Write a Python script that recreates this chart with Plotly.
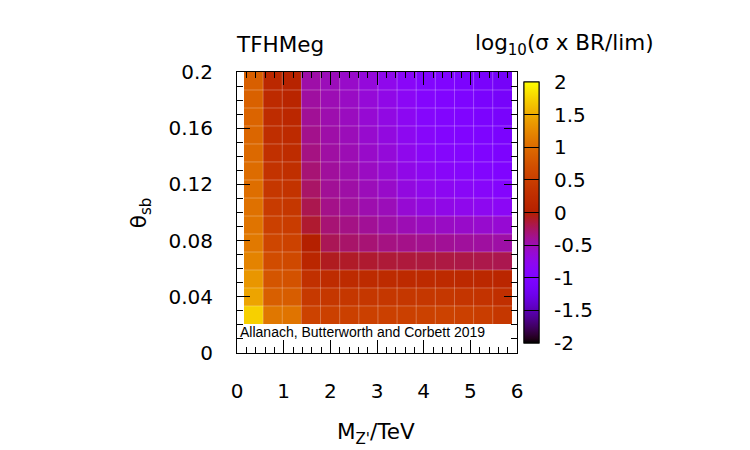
import math
import plotly.graph_objects as go

# ---- data ----
mass_tev = [0.355, 0.765, 1.175, 1.585, 1.995, 2.405, 2.815, 3.225, 3.635, 4.045, 4.455, 4.865, 5.275, 5.685]
theta_sb = [0.1936, 0.1808, 0.1680, 0.1552, 0.1424, 0.1296, 0.1167, 0.1039, 0.0911, 0.0783, 0.0655, 0.0527, 0.0399, 0.0271]
log_ratio = [
    [0.88, 0.15, 0.06, -0.46, -0.52, -0.58, -0.66, -0.75, -0.85, -0.95, -1.00, -1.05, -1.10, -1.15],
    [0.90, 0.18, 0.10, -0.43, -0.50, -0.56, -0.64, -0.72, -0.82, -0.92, -0.98, -1.03, -1.08, -1.12],
    [0.93, 0.22, 0.14, -0.40, -0.48, -0.54, -0.62, -0.70, -0.80, -0.90, -0.96, -1.00, -1.05, -1.10],
    [0.95, 0.26, 0.18, -0.37, -0.46, -0.52, -0.60, -0.68, -0.78, -0.88, -0.93, -0.97, -1.02, -1.07],
    [0.97, 0.30, 0.23, -0.34, -0.44, -0.50, -0.58, -0.65, -0.75, -0.85, -0.90, -0.94, -0.99, -1.04],
    [1.00, 0.35, 0.28, -0.30, -0.42, -0.48, -0.55, -0.62, -0.72, -0.80, -0.86, -0.90, -0.95, -1.00],
    [1.02, 0.40, 0.34, -0.26, -0.40, -0.45, -0.52, -0.58, -0.68, -0.75, -0.80, -0.84, -0.88, -0.92],
    [1.05, 0.45, 0.40, -0.20, -0.36, -0.42, -0.48, -0.52, -0.62, -0.68, -0.72, -0.75, -0.78, -0.82],
    [1.08, 0.52, 0.47, -0.12, -0.30, -0.35, -0.40, -0.45, -0.50, -0.54, -0.56, -0.58, -0.60, -0.62],
    [1.12, 0.60, 0.55, 0.00, -0.22, -0.27, -0.30, -0.34, -0.36, -0.38, -0.40, -0.42, -0.43, -0.45],
    [1.20, 0.68, 0.64, 0.12, -0.08, -0.10, -0.12, -0.14, -0.15, -0.16, -0.17, -0.18, -0.19, -0.20],
    [1.35, 0.77, 0.74, 0.30, 0.22, 0.20, 0.20, 0.20, 0.19, 0.18, 0.18, 0.17, 0.15, 0.12],
    [1.45, 0.88, 0.85, 0.42, 0.40, 0.40, 0.40, 0.40, 0.40, 0.40, 0.40, 0.38, 0.35, 0.28],
    [1.74, 1.10, 1.08, 0.55, 0.52, 0.52, 0.52, 0.52, 0.52, 0.54, 0.55, 0.52, 0.48, 0.40],
]
x_tickvals = [0, 1, 2, 3, 4, 5, 6]
y_tickvals = [0, 0.04, 0.08, 0.12, 0.16, 0.2]
y_ticktext = ["0", "0.04", "0.08", "0.12", "0.16", "0.2"]
cb_tickvals = [2, 1.5, 1, 0.5, 0, -0.5, -1, -1.5, -2]
cb_ticktext = ["2", "1.5", "1", "0.5", "0", "-0.5", "-1", "-1.5", "-2"]

# gnuplot default palette (rgbformulae 7,5,15)
def clip(v):
    return max(0.0, min(1.0, v))

colorscale = []
N = 64
for i in range(N + 1):
    t = i / N
    r = clip(math.sqrt(t))
    g = clip(t ** 3)
    b = clip(math.sin(2 * math.pi * t))
    colorscale.append([t, f"rgb({round(r*255)},{round(g*255)},{round(b*255)})"])

FONT = "DejaVu Sans"
cb_geom = dict(x=1.025, xanchor="left", xpad=0, y=0.5, yanchor="middle", len=1, lenmode="fraction",
               thickness=15, thicknessmode="pixels", outlinecolor="black", outlinewidth=1,
               tickvals=cb_tickvals, ticktext=cb_ticktext)

fig = go.Figure()
# heatmap whose colorbar carries the labels (pushed out by invisible outside ticks)
fig.add_trace(go.Heatmap(
    x=mass_tev, y=theta_sb, z=log_ratio,
    zmin=-2, zmax=2, colorscale=colorscale,
    colorbar=dict(ticks="outside", ticklen=11, tickcolor="rgba(0,0,0,0)",
                  tickfont=dict(family=FONT, size=20, color="black"), **cb_geom),
    hoverinfo="skip",
))
# same heatmap again; its colorbar draws the inside tick marks on top
fig.add_trace(go.Heatmap(
    x=mass_tev, y=theta_sb, z=log_ratio,
    zmin=-2, zmax=2, colorscale=colorscale,
    colorbar=dict(ticks="inside", ticklen=15, tickcolor="black", tickwidth=1,
                  showticklabels=False, **cb_geom),
    hoverinfo="skip",
))

# faint cell borders
x_edges = [(mass_tev[i] + mass_tev[i + 1]) / 2 for i in range(len(mass_tev) - 1)]
y_edges = [(theta_sb[i] + theta_sb[i + 1]) / 2 for i in range(len(theta_sb) - 1)]
x_lo = mass_tev[0] - (mass_tev[1] - mass_tev[0]) / 2
x_hi = mass_tev[-1] + (mass_tev[-1] - mass_tev[-2]) / 2
y_hi = theta_sb[0] + (theta_sb[0] - theta_sb[1]) / 2
y_lo = theta_sb[-1] - (theta_sb[-2] - theta_sb[-1]) / 2
gx, gy = [], []
for xe in x_edges:
    gx += [xe, xe, None]
    gy += [y_lo, y_hi, None]
for ye in y_edges:
    gx += [x_lo, x_hi, None]
    gy += [ye, ye, None]
fig.add_trace(go.Scatter(x=gx, y=gy, mode="lines",
                         line=dict(color="rgba(255,255,255,0.28)", width=1),
                         hoverinfo="skip", showlegend=False))

axis_common = dict(
    showline=True, linecolor="black", linewidth=1, mirror="allticks",
    ticks="inside", tickcolor="black", tickwidth=1,
    showgrid=False, zeroline=False,
    tickfont=dict(family=FONT, size=20, color="black"),
)
fig.update_xaxes(range=[0, 6], tickvals=x_tickvals, ticklen=13,
                 minor=dict(dtick=0.2, ticks="inside", ticklen=6, tickcolor="black", showgrid=False),
                 ticklabelstandoff=20, **axis_common)
fig.update_yaxes(range=[0, 0.2], tickvals=y_tickvals, ticktext=y_ticktext, ticklen=13,
                 minor=dict(dtick=0.01, ticks="inside", ticklen=6, tickcolor="black", showgrid=False),
                 ticklabelstandoff=19, **axis_common)

TITLE_SIZE = 21.5
fig.add_annotation(text="TFHMeg", xref="paper", yref="paper", x=0, y=1.0996,
                   xanchor="left", yanchor="middle", showarrow=False, xshift=-3,
                   font=dict(family=FONT, size=TITLE_SIZE, color="black"))
fig.add_annotation(text="log<sub>10</sub>(σ x BR/lim)", xref="paper", yref="paper", x=1.496, y=1.0996,
                   xanchor="right", yanchor="middle", showarrow=False,
                   font=dict(family=FONT, size=TITLE_SIZE, color="black"))
fig.add_annotation(text="θ<sub>sb</sub>", xref="paper", yref="paper", x=-0.346, y=0.498,
                   xanchor="center", yanchor="middle", textangle=-90, showarrow=False,
                   font=dict(family=FONT, size=TITLE_SIZE, color="black"))
fig.add_annotation(text="M<sub>Z'</sub>/TeV", xref="paper", yref="paper", x=0.495, y=-0.285,
                   xanchor="center", yanchor="middle", showarrow=False,
                   font=dict(family=FONT, size=TITLE_SIZE, color="black"))
fig.add_annotation(text="Allanach, Butterworth and Corbett 2019", xref="paper", yref="y",
                   x=0.0, y=0.0149, xanchor="left", yanchor="middle", showarrow=False, xshift=1,
                   font=dict(family="Liberation Sans", size=14, color="black"))

fig.update_layout(
    width=750, height=450,
    margin=dict(l=237, r=233, t=72, b=97),
    paper_bgcolor="white", plot_bgcolor="white",
    showlegend=False,
)
fig.write_html("out.html")
